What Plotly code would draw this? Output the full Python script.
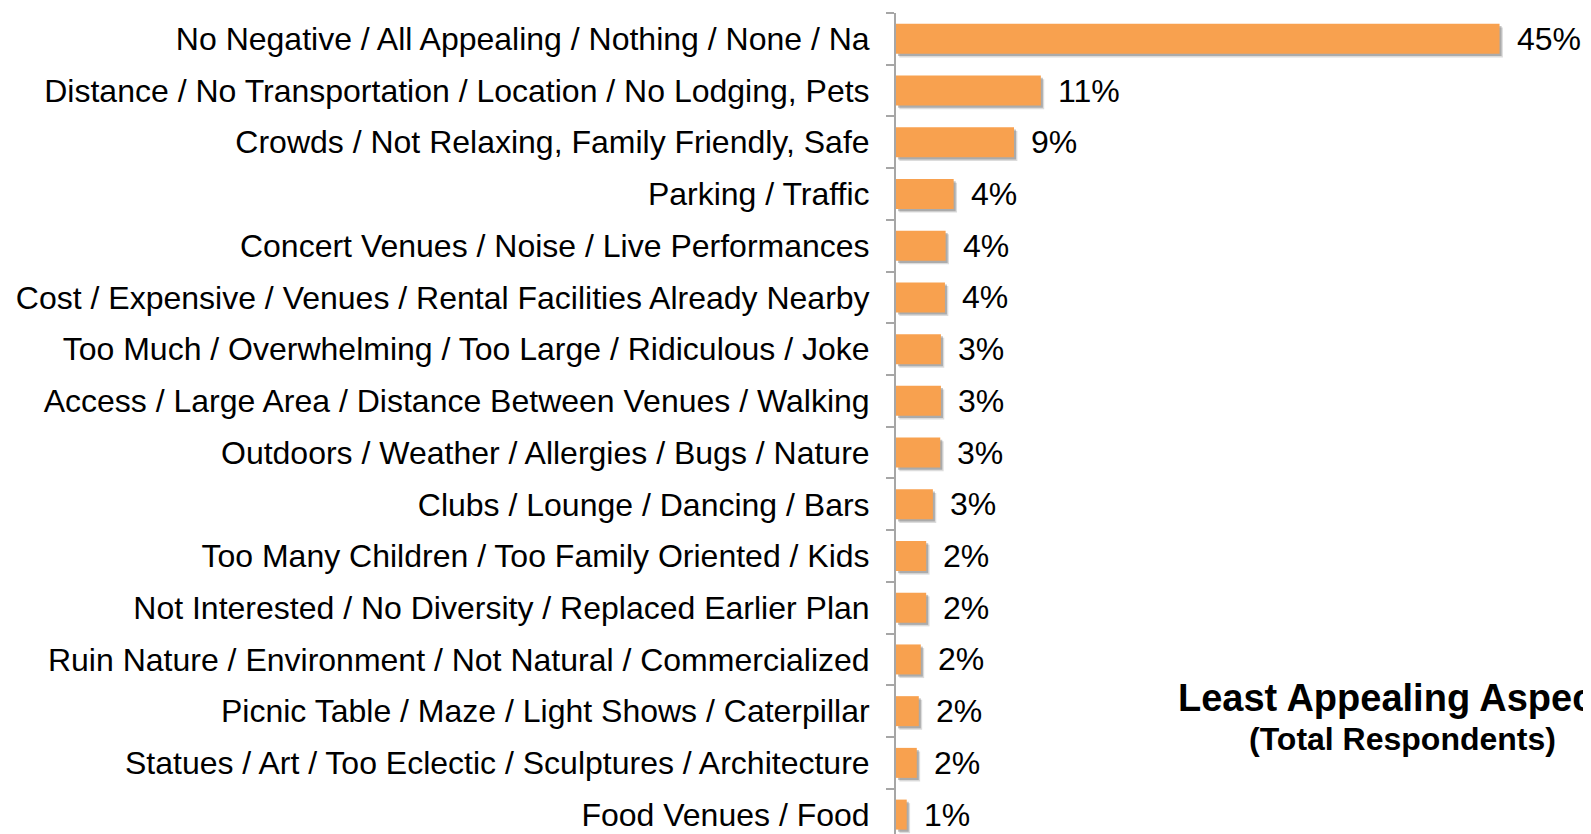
import plotly.graph_objects as go

categories = [
    "No Negative / All Appealing / Nothing / None / Na",
    "Distance / No Transportation / Location / No Lodging, Pets",
    "Crowds / Not Relaxing, Family Friendly, Safe",
    "Parking / Traffic",
    "Concert Venues / Noise / Live Performances",
    "Cost / Expensive / Venues / Rental Facilities Already Nearby",
    "Too Much / Overwhelming / Too Large / Ridiculous / Joke",
    "Access / Large Area / Distance Between Venues / Walking",
    "Outdoors / Weather / Allergies / Bugs / Nature",
    "Clubs / Lounge / Dancing / Bars",
    "Too Many Children / Too Family Oriented / Kids",
    "Not Interested / No Diversity / Replaced Earlier Plan",
    "Ruin Nature / Environment / Not Natural / Commercialized",
    "Picnic Table / Maze / Light Shows / Caterpillar",
    "Statues / Art / Too Eclectic / Sculptures / Architecture",
    "Food Venues / Food",
]
values = [45.0, 10.8, 8.8, 4.3, 3.7, 3.65, 3.35, 3.35, 3.3, 2.75, 2.25, 2.25, 1.85, 1.7, 1.55, 0.8]
value_labels = ["45%", "11%", "9%", "4%", "4%", "4%", "3%", "3%", "3%", "3%",
                "2%", "2%", "2%", "2%", "2%", "1%"]
title_line1 = "Least Appealing Aspects"
title_line2 = "(Total Respondents)"

FONT = "Arial, 'Liberation Sans', sans-serif"
BAR_W = 0.58
SHADOW_DX = 0.25   # in x data units (~3.5 px)
SHADOW_DY = 0.07   # in category units (~3.5 px)

fig = go.Figure()

# soft drop shadow (two layers)
for k, alpha in [(1.0, 0.18), (0.6, 0.30)]:
    fig.add_trace(go.Bar(
        y=categories, x=values, base=[SHADOW_DX * k] * len(values),
        orientation="h", width=BAR_W, offset=-BAR_W / 2 + SHADOW_DY * k,
        marker=dict(color=f"rgba(60,60,60,{alpha})", line=dict(width=0)),
        hoverinfo="skip", showlegend=False,
    ))

fig.add_trace(go.Bar(
    y=categories, x=values, orientation="h", width=BAR_W,
    marker=dict(color="#F8A14F", line=dict(width=0)),
    hoverinfo="skip", showlegend=False,
))

annotations = []
for c, v, t in zip(categories, values, value_labels):
    annotations.append(dict(
        x=v, y=c, xref="x", yref="y", text=t, showarrow=False,
        xanchor="left", yanchor="middle", xshift=15, yshift=0,
        font=dict(family=FONT, size=32, color="black"),
    ))

annotations.append(dict(
    x=0.74, y=0.1737, xref="paper", yref="paper", text="<b>" + title_line1 + "</b>",
    showarrow=False, xanchor="center", yanchor="middle",
    font=dict(family=FONT, size=38, color="black"),
))
annotations.append(dict(
    x=0.74, y=0.1237, xref="paper", yref="paper", text="<b>" + title_line2 + "</b>",
    showarrow=False, xanchor="center", yanchor="middle",
    font=dict(family=FONT, size=32, color="black"),
))

fig.update_layout(
    width=1591, height=834,
    margin=dict(l=888, r=19, t=5, b=0, pad=0),
    barmode="overlay",
    plot_bgcolor="white", paper_bgcolor="white",
    font=dict(family=FONT, color="black"),
    annotations=annotations,
    xaxis=dict(range=[0, 51], visible=False, showgrid=False, zeroline=False),
    yaxis=dict(
        type="category", categoryorder="array", categoryarray=categories,
        range=[15.53, -0.5], showgrid=False, zeroline=False,
        showline=True, linecolor="#A6A6A6", linewidth=2,
        ticks="outside", tickson="boundaries", ticklen=8, tickwidth=2, tickcolor="#A6A6A6",
        tickfont=dict(family=FONT, size=32, color="black"),
        ticklabelstandoff=18,
    ),
)

fig.write_html("out.html")
